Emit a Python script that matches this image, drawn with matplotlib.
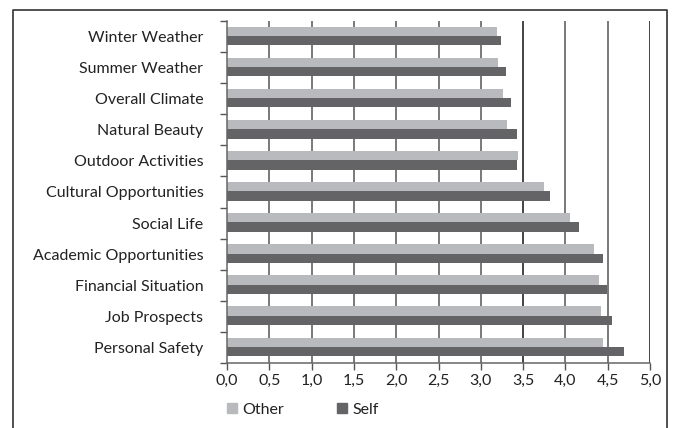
import numpy as np
import matplotlib.pyplot as plt
from matplotlib.patches import Patch

plt.rcParams['font.family'] = ['Lato', 'DejaVu Sans']

categories = ["Winter Weather", "Summer Weather", "Overall Climate", "Natural Beauty",
              "Outdoor Activities", "Cultural Opportunities", "Social Life",
              "Academic Opportunities", "Financial Situation", "Job Prospects",
              "Personal Safety"]
other = [3.19, 3.20, 3.26, 3.31, 3.44, 3.75, 4.06, 4.34, 4.40, 4.42, 4.45]
self_vals = [3.24, 3.30, 3.36, 3.43, 3.43, 3.82, 4.16, 4.45, 4.49, 4.55, 4.69]
xticks = [0.0, 0.5, 1.0, 1.5, 2.0, 2.5, 3.0, 3.5, 4.0, 4.5, 5.0]

C_OTHER = '#b9babe'
C_SELF = '#646466'
FS = 11.5

fig = plt.figure(figsize=(6.75, 4.28), dpi=100)
ax = fig.add_axes([227 / 675, 1 - 363 / 428, 423 / 675, 342 / 428])

y = np.arange(len(categories))
h = 0.30
ax.barh(y - h / 2 - 0.02, other, height=h, color=C_OTHER, zorder=2)
ax.barh(y + h / 2 - 0.02, self_vals, height=h, color=C_SELF, zorder=2)

ax.set_xlim(0, 5)
ax.set_ylim(len(categories) - 0.5, -0.5)

# y ticks sit on the category boundaries, labels centred on the categories
ax.set_yticks(np.arange(len(categories) + 1) - 0.5)
ax.set_yticklabels([])
ax.set_yticks(y, minor=True)
ax.set_yticklabels(categories, minor=True, fontsize=FS, color='#222')
ax.tick_params(axis='y', which='minor', length=0, pad=17)
ax.tick_params(axis='y', which='major', length=5, width=1, color='#555')

ax.set_xticks(xticks)
ax.set_xticklabels([f"{t:.1f}".replace('.', ',') for t in xticks],
                   fontsize=FS, color='#222')
ax.tick_params(axis='x', length=5, width=1, color='#555', pad=3)

for t in xticks[1:]:
    col = '#111' if t in (3.5, 5.0) else '#555'
    ax.axvline(t, color=col, lw=1.1, zorder=1)

for s in ['top', 'right']:
    ax.spines[s].set_visible(False)
for s in ['left', 'bottom']:
    ax.spines[s].set_color('#666')
    ax.spines[s].set_linewidth(1.1)

handles = [Patch(color=C_OTHER, label='Other'), Patch(color=C_SELF, label='Self')]
fig.legend(handles=handles, loc='center left', bbox_to_anchor=(213 / 675, 1 - 410 / 428),
           ncol=2, frameon=False, fontsize=FS, handlelength=0.6, handleheight=0.6,
           handletextpad=0.35, columnspacing=3.3, labelcolor='#222')

# outer frame (left, top, right)
fig.add_artist(plt.Line2D([13 / 675, 13 / 675, 667 / 675, 667 / 675],
                          [0, 1 - 10 / 428, 1 - 10 / 428, 0],
                          transform=fig.transFigure, color='#333', lw=1.2))

fig.savefig('out.png', dpi=100)
